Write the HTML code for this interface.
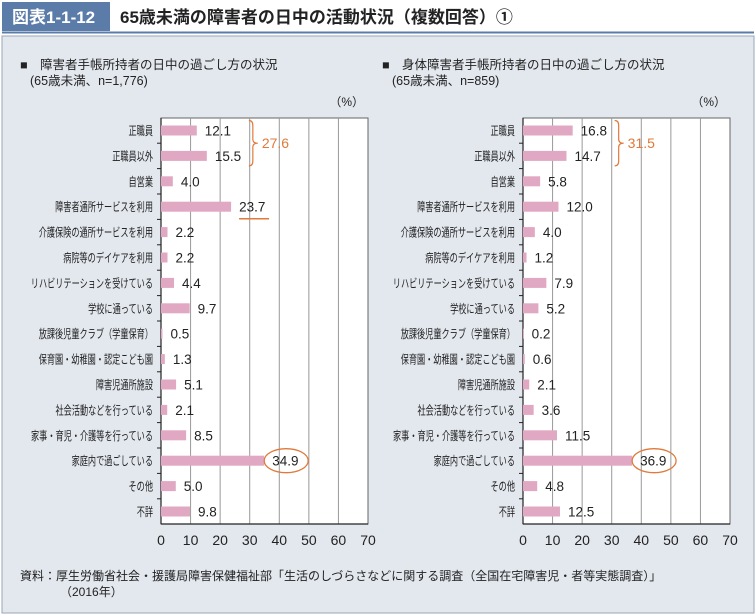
<!DOCTYPE html>
<html><head><meta charset="utf-8"><style>
body{margin:0;width:756px;height:615px;background:#fff;font-family:"Liberation Sans","Noto Sans CJK JP",sans-serif;overflow:hidden}
svg{display:block}
</style></head><body>
<svg id="s" width="756" height="615" xmlns="http://www.w3.org/2000/svg" font-family="Liberation Sans, Noto Sans CJK JP, sans-serif">
<rect x="2" y="36" width="752" height="577" fill="#e3e8ef" stroke="#9aa6b4"/>
<rect x="2" y="2" width="108" height="29" fill="#5b7ca8"/>
<text x="12" y="23" font-size="17" font-weight="bold" fill="#fff">図表1-1-12</text>
<text x="120" y="23" font-size="17" font-weight="bold" fill="#222">65歳未満の障害者の日中の活動状況（複数回答）①</text>
<line x1="2" y1="32.5" x2="754" y2="32.5" stroke="#5b7ca8" stroke-width="2"/>
<g id="left"></g><g id="right"></g>
<text x="20" y="580" font-size="12" fill="#222">資料：厚生労働省社会・援護局障害保健福祉部「生活のしづらさなどに関する調査（全国在宅障害児・者等実態調査）」</text>
<text x="60" y="596" font-size="12" fill="#222">（2016年）</text>
</svg>
<script>
const categories=["正職員","正職員以外","自営業","障害者通所サービスを利用","介護保険の通所サービスを利用","病院等のデイケアを利用","リハビリテーションを受けている","学校に通っている","放課後児童クラブ（学童保育）","保育園・幼稚園・認定こども園","障害児通所施設","社会活動などを行っている","家事・育児・介護等を行っている","家庭内で過ごしている","その他","不詳"];
const leftValues=[12.1,15.5,4.0,23.7,2.2,2.2,4.4,9.7,0.5,1.3,5.1,2.1,8.5,34.9,5.0,9.8];
const rightValues=[16.8,14.7,5.8,12.0,4.0,1.2,7.9,5.2,0.2,0.6,2.1,3.6,11.5,36.9,4.8,12.5];
const xTicks=[0,10,20,30,40,50,60,70];
const leftTotal="27.6", rightTotal="31.5";
const NS="http://www.w3.org/2000/svg";
function mk(p,t,a,txt){const e=document.createElementNS(NS,t);for(const k in a)e.setAttribute(k,a[k]);if(txt!==undefined)e.textContent=txt;p.appendChild(e);return e;}
function draw(g,ox,vals,title1,title2,total,underline){
  const top=118,bot=524,step=25.4,y0=130.5;
  const x=v=>ox+v*(207/70);
  const y=i=>y0+i*step;
  let t=mk(g,'text',{x:ox-141,y:69,'font-size':12.5,fill:'#222'},'■　'+title1);
  
  
  t=mk(g,'text',{x:ox-131,y:85,'font-size':12.5,fill:'#222'},title2);
  
  
  t=mk(g,'text',{x:x(70)-4,y:106,'font-size':12,fill:'#222','text-anchor':'end'},'（%）');
  
  
  const r=mk(g,'rect',{x:ox,y:top,width:x(70)-ox,height:bot-top,fill:'#fff',stroke:'#666'});
  
  
  xTicks.forEach(v=>{
    if(v>0&&v<70){const l=mk(g,'line',{x1:x(v),y1:top,x2:x(v),y2:bot,stroke:'#999','stroke-width':1});
    
    }
    const tt=mk(g,'text',{x:x(v),y:545,'font-size':14,fill:'#222','text-anchor':'middle'},String(v));
    
    
  });
  mk(g,'line',{x1:ox,y1:top,x2:ox,y2:bot,stroke:'#222','stroke-width':1.2});
  mk(g,'line',{x1:ox,y1:bot,x2:x(70),y2:bot,stroke:'#222','stroke-width':1.2});
  vals.forEach((v,i)=>{
    if(i>0){mk(g,'line',{x1:ox-4,y1:y(i)-step/2,x2:ox,y2:y(i)-step/2,stroke:'#222'});}
    const lb=mk(g,'text',{x:ox-8,y:y(i)+4.5,'font-size':12,fill:'#222','text-anchor':'end'},categories[i]);
    
    
    const w=lb.getComputedTextLength();
    if(w>0){lb.setAttribute('textLength',(w*0.68).toFixed(1));lb.setAttribute('lengthAdjust','spacingAndGlyphs');}
    const b=mk(g,'rect',{x:ox,y:y(i)-5,width:Math.max(x(v)-ox,0.8),height:10,fill:'#e0a8c2'});
    
    
    const vt=mk(g,'text',{x:x(v)+8,y:y(i)+5,'font-size':13.5,fill:'#222'},v.toFixed(1));
    
    
    if(i===13){const e=mk(g,'ellipse',{cx:x(v)+22,cy:y(i),rx:22,ry:12,fill:'none',stroke:'#e07a3a','stroke-width':1.3});
      
      }
    if(i===3&&underline){const u=mk(g,'line',{x1:x(v)+8,y1:y(i)+12,x2:x(v)+38,y2:y(i)+12,stroke:'#e07a3a','stroke-width':1.5});
      
      }
  });
  const bx=Math.max(x(vals[0]),x(vals[1]))+46;
  const ya=y(0)-10,yb=y(1)+10,ym=(ya+yb)/2;
  const br=mk(g,'path',{d:`M${bx-4},${ya} Q${bx},${ya} ${bx},${ya+5} L${bx},${ym-4} Q${bx},${ym} ${bx+5},${ym} Q${bx},${ym} ${bx},${ym+4} L${bx},${yb-5} Q${bx},${yb} ${bx-4},${yb}`,fill:'none',stroke:'#e07a3a','stroke-width':1.2});
  
  
  const tt=mk(g,'text',{x:bx+9,y:ym+5,'font-size':14,fill:'#e07a3a'},total);
  
  
}
draw(document.getElementById('left'),161,leftValues,'障害者手帳所持者の日中の過ごし方の状況','(65歳未満、n=1,776)',leftTotal,true);
draw(document.getElementById('right'),523,rightValues,'身体障害者手帳所持者の日中の過ごし方の状況','(65歳未満、n=859)',rightTotal,false);
</script>
</body></html>
